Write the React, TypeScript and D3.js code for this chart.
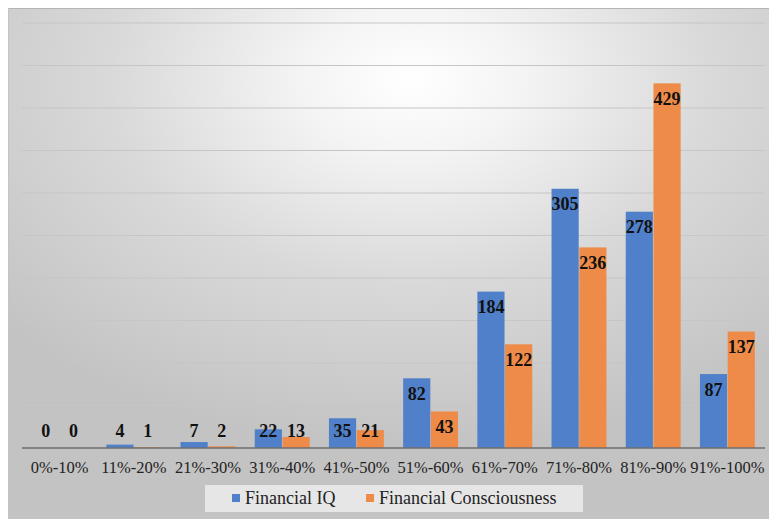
import React from "react";
import * as d3 from "d3";

const categories = ["0%-10%", "11%-20%", "21%-30%", "31%-40%", "41%-50%", "51%-60%", "61%-70%", "71%-80%", "81%-90%", "91%-100%"];
const financialIQ = [0, 4, 7, 22, 35, 82, 184, 305, 278, 87];
const financialConsciousness = [0, 1, 2, 13, 21, 43, 122, 236, 429, 137];
const seriesNames = ["Financial IQ", "Financial Consciousness"];
const yTicks = [0, 50, 100, 150, 200, 250, 300, 350, 400, 450, 500];

const W = 769;
const H = 519;
const colors = ["#5080c9", "#ee8b48"];
const font = "'Liberation Serif', 'Times New Roman', Times, serif";

export default function App() {
  const x0 = d3.scaleBand<string>().domain(categories).range([22.5, 764.5]).paddingInner(0.26).paddingOuter(0.13);
  const x1 = d3.scaleBand<number>().domain([0, 1]).range([0, x0.bandwidth()]).paddingInner(0.02);
  const y = d3.scaleLinear().domain([0, 500]).range([448, 23]);
  const series = [financialIQ, financialConsciousness];
  const tStyle = { fontFamily: font };

  return (
    <svg width={W} height={H} style={{ position: "absolute", left: 0, top: 0 }}>
      <defs>
        <radialGradient id="bg" cx="53%" cy="14%" r="72%" fx="53%" fy="14%">
          <stop offset="0" stopColor="#ffffff" />
          <stop offset="0.2" stopColor="#f4f4f4" />
          <stop offset="0.55" stopColor="#d9d9d9" />
          <stop offset="1" stopColor="#c3c3c3" />
        </radialGradient>
      </defs>
      <rect x={0} y={0} width={W} height={H} fill="#ffffff" />
      <rect x={8} y={8} width={W - 8} height={H - 8} fill="url(#bg)" />
      <line x1={8} x2={W} y1={8.5} y2={8.5} stroke="#b5b5b5" strokeWidth={1} />
      <line x1={8.5} x2={8.5} y1={8} y2={H} stroke="#c4c4c4" strokeWidth={1} />
      {yTicks.slice(1).map((t) => (
        <line key={t} x1={22} x2={765} y1={y(t)} y2={y(t)} stroke="#c6c6c6" strokeWidth={1.2} />
      ))}
      {categories.map((c, i) => (
        <g key={c} transform={`translate(${x0(c)},0)`}>
          {series.map((s, j) => {
            const v = s[i];
            const bx = x1(j)!;
            const bw = x1.bandwidth();
            const top = y(v);
            const ly = Math.min(top + 21.5, 437);
            return (
              <g key={j}>
                {v > 0 && <rect x={bx} y={top} width={bw} height={y(0) - top} fill={colors[j]} />}
                <text x={bx + bw / 2} y={ly} textAnchor="middle" fontSize={18} fontWeight="bold" fill="#111" style={tStyle}>
                  {v}
                </text>
              </g>
            );
          })}
          <text x={x0.bandwidth() / 2} y={472.5} textAnchor="middle" fontSize={16.5} fill="#222" style={tStyle}>
            {c}
          </text>
        </g>
      ))}
      <line x1={22} x2={765} y1={y(0)} y2={y(0)} stroke="#6e6e6e" strokeWidth={1.5} />
      <g>
        <rect x={205} y={485} width={378} height={27} fill="#ececec" opacity={0.85} />
        <rect x={232} y={494} width={8} height={8} fill={colors[0]} />
        <text x={245} y={503.5} fontSize={18} fill="#222" style={tStyle}>{seriesNames[0]}</text>
        <rect x={366} y={494} width={8} height={8} fill={colors[1]} />
        <text x={379} y={503.5} fontSize={18} fill="#222" style={tStyle}>{seriesNames[1]}</text>
      </g>
    </svg>
  );
}
